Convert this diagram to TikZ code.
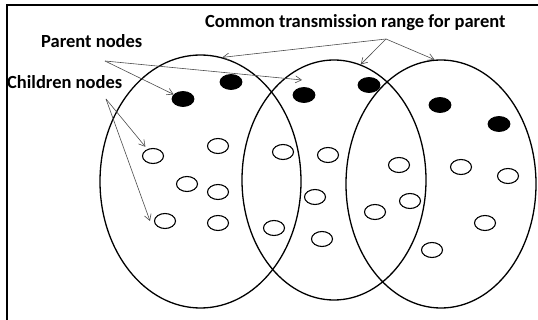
\documentclass[tikz,border=0pt]{standalone}
\usepackage{fontspec}
\setmainfont{Carlito}
\usetikzlibrary{shapes.geometric,arrows.meta}

\begin{document}
\begin{tikzpicture}[x=1pt,y=-1pt,
  range/.style n args={2}{draw=black, ellipse, line width=1.3pt, inner sep=0pt,
    minimum width=#1, minimum height=#2},
  parent/.style={ellipse, draw=black, fill=black, line width=0.8pt, inner sep=0pt,
    minimum width=22pt, minimum height=15pt},
  child/.style={ellipse, draw=black, fill=white, line width=1.1pt, inner sep=0pt,
    minimum width=21pt, minimum height=15pt},
  caption/.style={font=\bfseries\fontsize{18.5}{20}\selectfont, inner sep=0pt, anchor=base west},
  pointer/.style={draw=black!70, line width=0.6pt, -{Straight Barb[length=6pt,width=7pt]}}]

  \useasboundingbox (0,0) rectangle (538,320);

  % frame on the top and left sides
  \draw[line width=2.4pt] (6.8,320) -- (6.8,5.3) -- (538,5.3);

  % common transmission ranges
  \node[range={201pt}{253pt}] (r1) at (200.5,181.5) {};
  \node[range={184pt}{240pt}] (r2) at (334,180) {};
  \node[range={190pt}{248pt}] (r3) at (441,184) {};

  % parent nodes
  \node[parent] (p1) at (183,99) {};
  \node[parent] (p2) at (231,82) {};
  \node[parent] (p3) at (304,95) {};
  \node[parent] (p4) at (369,85) {};
  \node[parent] (p5) at (440,105) {};
  \node[parent] (p6) at (499,124) {};

  % children nodes
  \node[child] (c1) at (153,156) {};
  \node[child] (c2) at (218,146) {};
  \node[child] (c3) at (187,184) {};
  \node[child] (c4) at (218,192) {};
  \node[child] (c5) at (165,221) {};
  \node[child] (c6) at (218,223) {};
  \node[child] (c7) at (283,152) {};
  \node[child] (c8) at (328,155) {};
  \node[child] (c9) at (315,197) {};
  \node[child] (c10) at (274,228) {};
  \node[child] (c11) at (322,239) {};
  \node[child] (c12) at (399,165) {};
  \node[child] (c13) at (410,201) {};
  \node[child] (c14) at (375,212) {};
  \node[child] (c15) at (461,167) {};
  \node[child] (c16) at (508,176) {};
  \node[child] (c17) at (485,223) {};
  \node[child] (c18) at (432,250) {};

  % captions
  \node[caption] (tcommon) at (205,28) {Common transmission range for parent};
  \node[caption] (tparent) at (41,47.5) {Parent nodes};
  \node[caption] (tchild) at (7,89) {Children nodes};

  % pointer origins and free ends
  \coordinate (cs) at (386,39);
  \coordinate (ps) at (105,61);
  \coordinate (chs) at (106,99);
  \coordinate (p3tip) at (302,80);
  \coordinate (c5tip) at (150,221);

  \draw[pointer] (cs) -- (r1.80);
  \draw[pointer] (cs) -- (r2.77);
  \draw[pointer] (cs) -- (r3.93);
  \draw[pointer] (ps) -- (p1);
  \draw[pointer] (ps) -- (p3tip);
  \draw[pointer, shorten >=3pt] (chs) -- (c1);
  \draw[pointer] (chs) -- (c5tip);
\end{tikzpicture}
\end{document}
